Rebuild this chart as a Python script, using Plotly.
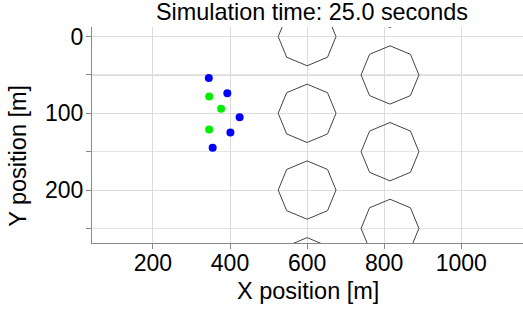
import numpy as np
import plotly.graph_objects as go

# Agent positions
blue_x = [345, 393, 425, 401, 355]
blue_y = [54, 74, 105, 125, 145]
green_x = [346, 377, 346]
green_y = [78, 94, 121]

# Obstacles (octagons)
obst_x = [600, 600, 600, 600, 815, 815, 815, 815]
obst_y = [0, 100, 200, 300, -50, 50, 150, 250]
obst_rx = 75
obst_ry = 38

x_ticks = [200, 400, 600, 800, 1000]
y_ticks = [0, 100, 200]

title_text = "Simulation time: 25.0 seconds"
x_title = "X position [m]"
y_title = "Y position [m]"

FONT = "Liberation Sans, Arial, sans-serif"

fig = go.Figure()

ang = np.deg2rad(np.arange(0, 361, 45))
for cx, cy in zip(obst_x, obst_y):
    fig.add_trace(go.Scatter(
        x=cx + obst_rx * np.cos(ang), y=cy + obst_ry * np.sin(ang),
        mode="lines", line=dict(color="#444444", width=1),
        hoverinfo="skip", showlegend=False))

fig.add_trace(go.Scatter(x=blue_x, y=blue_y, mode="markers",
                         marker=dict(color="#0000ff", size=8, line=dict(width=0)),
                         showlegend=False))
fig.add_trace(go.Scatter(x=green_x, y=green_y, mode="markers",
                         marker=dict(color="#00ee00", size=8, line=dict(width=0)),
                         showlegend=False))

fig.add_shape(type="line", xref="paper", x0=0, x1=1, yref="y", y0=50, y1=50,
              line=dict(color="#dddddd", width=2), layer="below")

# Axis titles as annotations for precise placement
fig.add_annotation(text=x_title, xref="paper", yref="paper", x=0.5, y=0,
                   xanchor="center", yanchor="middle", yshift=-47.5, showarrow=False,
                   font=dict(size=23.5, family=FONT, color="black"))
fig.add_annotation(text=y_title, xref="paper", yref="paper", x=0, y=0.4036,
                   xanchor="center", yanchor="middle", xshift=-74, textangle=-90,
                   showarrow=False, font=dict(size=23.5, family=FONT, color="black"))

fig.update_layout(
    template="none",
    width=523, height=312,
    margin=dict(l=92, r=0, t=27, b=69, autoexpand=False),
    paper_bgcolor="white", plot_bgcolor="white",
    font=dict(family=FONT, color="black"),
    title=dict(text=title_text, x=312/523, xanchor="center", xref="container",
               y=1 - 12/312, yanchor="middle", yref="container",
               font=dict(size=23.4, family=FONT, color="black")),
    showlegend=False,
)
fig.update_xaxes(
    automargin=False,
    range=[42, 1160], tickvals=x_ticks, ticktext=[str(v) for v in x_ticks],
    showgrid=True, gridcolor="#dcdcdc", gridwidth=1, zeroline=False,
    showline=True, linecolor="#888888", linewidth=1,
    ticks="outside", ticklen=5, tickcolor="#888888", ticklabelstandoff=-6,
    tickfont=dict(size=23, family=FONT, color="black"),
)
fig.update_yaxes(
    automargin=False,
    range=[269, -12.5], tickvals=y_ticks, ticktext=[str(v) for v in y_ticks],
    showgrid=True, gridcolor="#dcdcdc", gridwidth=1, zeroline=False,
    showline=True, linecolor="#888888", linewidth=1,
    ticks="outside", ticklen=5, tickcolor="#888888", ticklabelstandoff=-2,
    tickfont=dict(size=23, family=FONT, color="black"),
    minor=dict(dtick=50, tick0=0, ticks="outside", ticklen=5, tickcolor="#888888",
               showgrid=True, gridcolor="#e4e4e4", gridwidth=1),
)

fig.write_html("out.html", config={"displayModeBar": False},
               post_script="document.body.style.margin='0';document.body.style.overflow='hidden';")
